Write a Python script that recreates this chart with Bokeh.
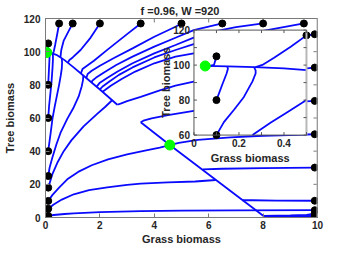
import math
from bokeh.plotting import figure
from bokeh.models import Range1d, FixedTicker, Span
from bokeh.core.properties import value
from bokeh.embed import file_html
from bokeh.resources import INLINE

# ---------------- texts / ticks ----------------
TITLE = "f =0.96,  W =920"
X_LABEL = "Grass biomass"
Y_LABEL = "Tree biomass"
x_ticks = [0, 2, 4, 6, 8, 10]
y_ticks = [0, 20, 40, 60, 80, 100, 120]
inset_x_ticks = [0, 0.1, 0.2, 0.3, 0.4, 0.5]
inset_x_label_vals = [0, 0.2, 0.4]
inset_x_label_txt = ["0", "0.2", "0.4"]
inset_y_ticks = [60, 70, 80, 90, 100, 110, 120]
inset_y_label_vals = [60, 80, 100, 120]

# ---------------- initial conditions (black dots) ----------------
left_g = 0.1
left_t = [105, 80, 60, 40, 25, 18, 10, 5.3, 1.0]
top_t = 117
top_g = [0.5, 1.0, 2.0, 3.5, 5.0, 6.5, 8.0, 9.5]
right_g = 9.9
right_t = [110.5, 90.4, 70.3, 50.2, 30.1, 10.1, 4.4, 2.4, 0.9]

# ---------------- stable equilibria (green) ----------------
eq_g = [0.05, 4.57]
eq_t = [99.5, 43.7]

# ---------------- trajectories (grass, tree) ----------------
L1_g = [0.1, 0.089, 0.07]
L1_t = [105, 100.1, 99.5]
L2_g = [0.1, 0.126, 0.145, 0.151, 0.148]
L2_t = [80, 88.9, 95.2, 97.9, 99.2]
L3_g = [0.1, 0.133, 0.178, 0.222, 0.26, 0.274, 0.274, 0.267]
L3_t = [60, 67.4, 74.5, 81.8, 90.7, 95.2, 97.0, 98.8]
L4_g = [0.1, 0.14, 0.19, 0.26, 0.34, 0.42, 0.5, 0.56, 0.6, 0.61, 0.6]
L4_t = [40, 45, 51, 60, 67, 73.5, 80, 85.5, 90, 93.5, 96.0]
L5_g = [0.1, 0.15, 0.25, 0.4, 0.55, 0.8, 1.04, 1.22, 1.33, 1.38, 1.39]
L5_t = [25, 30, 36, 44, 51, 59.5, 66.5, 73, 79, 83, 85.6]
L6_g = [0.1, 0.25, 0.45, 0.67, 0.95, 1.4, 1.9, 2.2, 2.45]
L6_t = [18, 26, 33.5, 40, 46.5, 55, 62.5, 66.8, 70.7]
L7_g = [0.1, 0.25, 0.5, 0.8, 1.2, 1.7, 2.3, 3.0, 3.7, 4.2, 4.57]
L7_t = [10, 13.5, 18, 23, 27.5, 31.5, 35, 38, 40.5, 42.2, 43.7]
L8_g = [0.1, 0.3, 0.6, 1.04, 1.6, 2.27, 3.0, 3.5, 4.5, 5.5, 6.26]
L8_t = [5.3, 7.8, 10.8, 14, 16.5, 18.2, 19.7, 20.4, 21.2, 21.7, 22.6]
L9_g = [0.1, 0.3, 0.7, 1.04, 2.0, 3.5, 5.0, 7.0, 9.9]
L9_t = [1.0, 1.5, 2.1, 2.5, 3.2, 3.8, 4.1, 4.3, 4.4]

T1_g = [0.5, 0.43, 0.356, 0.304, 0.274]
T1_t = [117, 110.5, 104.2, 100.1, 98.8]
T2_g = [1.0, 0.85, 0.67, 0.58, 0.55]
T2_t = [117, 112.4, 106.7, 101, 96.7]
T3_g = [2.0, 1.66, 1.29, 1.0, 0.88, 0.82]
T3_t = [117, 108.5, 101, 96.5, 95, 93.3]
T4_g = [3.5, 3.0, 2.27, 1.78, 1.5, 1.36, 1.3]
T4_t = [117, 110.6, 101.1, 94.5, 91.2, 89.5, 86.9]
T5_g = [5.0, 4.78, 4.0, 3.2, 2.5, 2.0, 1.7, 1.55, 1.5]
T5_t = [117, 115, 109, 102, 96, 91.5, 88.5, 86.5, 84.1]
T6_g = [6.5, 5.45, 4.78, 4.0, 3.2, 2.6, 2.15, 1.85, 1.72, 1.7]
T6_t = [117, 113, 108.4, 103, 97, 92, 87.5, 84.2, 82.5, 81.4]
T7_g = [8.0, 7.0, 6.0, 5.45, 4.78, 4.0, 3.2, 2.65, 2.25, 2.0, 1.88]
T7_t = [117, 114.8, 111.5, 108.5, 104, 99, 93, 88, 84, 81.3, 78.9]
T8_g = [9.5, 8.5, 7.5, 6.5, 5.45, 4.78, 4.0, 3.2, 2.7, 2.35, 2.1, 2.0]
T8_t = [117, 114, 111, 108, 104.5, 101, 96.5, 90.5, 86, 82, 79, 77.2]

R1_g = [9.9, 9.0, 8.0, 7.0, 6.0, 5.45, 4.78, 4.0, 3.3, 2.8, 2.4, 2.2, 2.1]
R1_t = [110.5, 108.5, 106, 103.5, 100.5, 99, 97, 93, 88, 83.5, 79.5, 77, 75.8]
R2_g = [9.9, 9.0, 8.0, 7.0, 6.0, 5.45, 4.78, 4.23, 3.5, 3.0, 2.76, 2.64]
R2_t = [90.4, 89, 87.3, 85.5, 83.2, 82, 79.5, 76.8, 72.8, 70.2, 68.7, 68.0]
R3_g = [9.9, 8.0, 6.9, 5.45, 4.5, 3.9, 3.6, 3.5]
R3_t = [70.3, 68.5, 66.8, 64.3, 61.8, 59.8, 58.4, 57.4]
R9_g = [9.9, 8.0, 6.8, 5.6, 4.9, 4.57]
R9_t = [50.2, 49.3, 48.3, 46.8, 45, 43.7]
R4_g = [9.9, 8.0, 6.5, 5.78]
R4_t = [30.1, 29.8, 29.4, 29.0]
R5_g = [9.9, 8.5, 7.6, 7.25]
R5_t = [10.1, 10.2, 10.4, 10.4]
R7_g = [9.9, 9.6, 9.0, 8.0]
R7_t = [2.4, 1.6, 1.3, 1.0]
R8_g = [9.9, 8.04]
R8_t = [0.9, 0.57]

# slow manifolds the trajectories run along to the equilibria
D1_g = [0.05, 0.15, 0.27, 0.4, 0.5, 0.7, 1.0, 1.4, 2.0, 2.64]
D1_t = [99.5, 99.3, 98.8, 98.1, 97.1, 94.9, 91.0, 85.5, 77.2, 68.0]
D2_g = [3.5, 4.57, 8.04]
D2_t = [57.4, 43.7, 0.57]

trajectories = [
    (L1_g, L1_t), (L2_g, L2_t), (L3_g, L3_t), (L4_g, L4_t), (L5_g, L5_t),
    (L6_g, L6_t), (L7_g, L7_t), (L8_g, L8_t), (L9_g, L9_t),
    (T1_g, T1_t), (T2_g, T2_t), (T3_g, T3_t), (T4_g, T4_t), (T5_g, T5_t),
    (T6_g, T6_t), (T7_g, T7_t), (T8_g, T8_t),
    (R1_g, R1_t), (R2_g, R2_t), (R3_g, R3_t), (R9_g, R9_t), (R4_g, R4_t),
    (R5_g, R5_t), (R7_g, R7_t), (R8_g, R8_t),
    (D1_g, D1_t), (D2_g, D2_t),
]

dots_g = [left_g] * len(left_t) + top_g + [right_g] * len(right_t)
dots_t = left_t + [top_t] * len(top_g) + right_t

# ---------------- style / layout constants ----------------
FONT = "Liberation Sans"
TXT = "#262626"
AX = "#7a7a7a"
BLUE = "#0a0aff"
GREEN = "#00ff00"
LW = 1.8
X0, X1, Y0, Y1 = 0, 10, 0, 120

# inset box position (in main data units) and inset data window
IN_G0, IN_G1 = 5.458, 9.595
IN_T0, IN_T1 = 49.7, 113.0
ig0, ig1 = 0.0, 0.5
it0, it1 = 60.0, 120.0
FRAME_W, FRAME_H = 273.0, 200.0   # approx. frame size in px

p = figure(width=334, height=247, x_range=Range1d(X0, X1), y_range=Range1d(Y0, Y1),
           output_backend="svg", toolbar_location=None, title=TITLE,
           min_border_left=40, min_border_right=17, min_border_top=12,
           min_border_bottom=18)
p.grid.visible = False
p.outline_line_color = AX
p.outline_line_width = 1
p.title.align = "center"
p.title.text_font = FONT
p.title.text_font_size = "11px"
p.title.text_font_style = "bold"
p.title.text_color = TXT
p.title.standoff = 4

for ax, ticks in ((p.xaxis[0], x_ticks), (p.yaxis[0], y_ticks)):
    ax.ticker = FixedTicker(ticks=ticks)
    ax.major_tick_in = 4
    ax.major_tick_out = 0
    ax.minor_tick_line_color = None
    ax.axis_line_color = AX
    ax.major_tick_line_color = AX
    ax.major_label_text_font = FONT
    ax.major_label_text_font_size = "10px"
    ax.major_label_text_font_style = "bold"
    ax.major_label_text_color = TXT
    ax.axis_label_text_font = FONT
    ax.axis_label_text_font_size = "11px"
    ax.axis_label_text_font_style = "bold"
    ax.axis_label_text_color = TXT
p.xaxis.axis_label = X_LABEL
p.yaxis.axis_label = Y_LABEL
p.xaxis.major_label_standoff = 3
p.xaxis.axis_label_standoff = 1
p.yaxis.major_label_standoff = 5
p.yaxis.axis_label_standoff = 5

# ticks on the top and right edges of the box (MATLAB "box on")
tk_x = 4 * (X1 - X0) / FRAME_W
tk_y = 4 * (Y1 - Y0) / FRAME_H
p.segment(x0=x_ticks, y0=[Y1] * len(x_ticks), x1=x_ticks, y1=[Y1 - tk_y] * len(x_ticks),
          line_color=AX, line_width=1)
p.segment(x0=[X1] * len(y_ticks), y0=y_ticks, x1=[X1 - tk_x] * len(y_ticks), y1=y_ticks,
          line_color=AX, line_width=1)
p.add_layout(Span(location=X1, dimension="height", line_color="#b8b8b8", line_width=2))

# ---------------- main plot ----------------
p.multi_line(xs=[g for g, t in trajectories], ys=[t for g, t in trajectories],
             line_color=BLUE, line_width=LW)
p.scatter(dots_g, dots_t, size=7, color="black")
p.scatter(eq_g, eq_t, size=10, color=GREEN)

# ---------------- inset (same data, zoomed window) ----------------
sx = (ig1 - ig0) / (IN_G1 - IN_G0)
sy = (it1 - it0) / (IN_T1 - IN_T0)
p.extra_x_ranges = {"ix": Range1d(ig0 - (IN_G0 - X0) * sx, ig0 + (X1 - IN_G0) * sx)}
p.extra_y_ranges = {"iy": Range1d(it0 - (IN_T0 - Y0) * sy, it0 + (Y1 - IN_T0) * sy)}
IR = dict(x_range_name="ix", y_range_name="iy")


def clip_polyline(gs, ts, g0, g1, t0, t1):
    pieces, cur = [], []
    for i in range(len(gs) - 1):
        x0, y0, x1, y1 = gs[i], ts[i], gs[i + 1], ts[i + 1]
        dx, dy = x1 - x0, y1 - y0
        u0, u1, ok = 0.0, 1.0, True
        for pp, qq in ((-dx, x0 - g0), (dx, g1 - x0), (-dy, y0 - t0), (dy, t1 - y0)):
            if pp == 0:
                if qq < 0:
                    ok = False
                    break
            else:
                r = qq / pp
                if pp < 0:
                    u0 = max(u0, r)
                else:
                    u1 = min(u1, r)
        if not ok or u0 > u1:
            if cur:
                pieces.append(cur)
                cur = []
            continue
        a = (x0 + u0 * dx, y0 + u0 * dy)
        b = (x0 + u1 * dx, y0 + u1 * dy)
        if cur and u0 > 0:
            pieces.append(cur)
            cur = []
        if not cur:
            cur = [a]
        cur.append(b)
        if u1 < 1:
            pieces.append(cur)
            cur = []
    if cur:
        pieces.append(cur)
    return pieces


ixs, iys = [], []
for g, t in trajectories:
    for piece in clip_polyline(g, t, ig0, ig1, it0, it1):
        ixs.append([q[0] for q in piece])
        iys.append([q[1] for q in piece])

p.quad(left=[ig0], right=[ig1], bottom=[it0], top=[it1], fill_color="white",
       line_color=None, **IR)
p.multi_line(xs=ixs, ys=iys, line_color=BLUE, line_width=LW, **IR)

eps = 1e-9
inside = [(g, t) for g, t in zip(dots_g, dots_t)
          if ig0 - eps <= g <= ig1 + eps and it0 - eps <= t <= it1 + eps]
p.scatter([q[0] for q in inside], [q[1] for q in inside], size=7, color="black", **IR)
einside = [(g, t) for g, t in zip(eq_g, eq_t) if ig0 <= g <= ig1 and it0 <= t <= it1]
p.scatter([q[0] for q in einside], [q[1] for q in einside], size=10, color=GREEN, **IR)

# inset box & ticks
inset_px_w = (IN_G1 - IN_G0) / (X1 - X0) * FRAME_W
inset_px_h = (IN_T1 - IN_T0) / (Y1 - Y0) * FRAME_H
tg = 3 * (ig1 - ig0) / inset_px_w
tt = 3 * (it1 - it0) / inset_px_h
p.quad(left=[ig0], right=[ig1], bottom=[it0], top=[it1], fill_color=None,
       line_color="#555555", line_width=1, **IR)
p.segment(x0=[ig1], y0=[it0], x1=[ig1], y1=[it1], line_color="#b8b8b8", line_width=2, **IR)
p.segment(x0=inset_x_ticks, y0=[it0] * len(inset_x_ticks), x1=inset_x_ticks,
          y1=[it0 + tt] * len(inset_x_ticks), line_color="#555555", line_width=1, **IR)
p.segment(x0=inset_x_ticks, y0=[it1] * len(inset_x_ticks), x1=inset_x_ticks,
          y1=[it1 - tt] * len(inset_x_ticks), line_color="#555555", line_width=1, **IR)
p.segment(x0=[ig0] * len(inset_y_ticks), y0=inset_y_ticks, x1=[ig0 + tg] * len(inset_y_ticks),
          y1=inset_y_ticks, line_color="#555555", line_width=1, **IR)
p.segment(x0=[ig1] * len(inset_y_ticks), y0=inset_y_ticks, x1=[ig1 - tg] * len(inset_y_ticks),
          y1=inset_y_ticks, line_color="#555555", line_width=1, **IR)

txt = dict(text_font=value(FONT), text_font_style="bold", text_color=TXT)
p.text(x=inset_x_label_vals, y=[it0] * len(inset_x_label_vals), text=inset_x_label_txt,
       text_align="center", text_baseline="top", y_offset=4, text_font_size="10px", **txt, **IR)
p.text(x=[ig0] * len(inset_y_label_vals), y=inset_y_label_vals,
       text=[str(v) for v in inset_y_label_vals], text_align="right", text_baseline="middle",
       x_offset=-4, text_font_size="10px", **txt, **IR)
p.text(x=[(ig0 + ig1) / 2], y=[it0], text=[X_LABEL], text_align="center", text_baseline="top",
       y_offset=17, text_font_size="11px", **txt, **IR)
ylab_g = ig0 - 28 * (ig1 - ig0) / inset_px_w
p.text(x=[ylab_g], y=[(it0 + it1) / 2], text=[Y_LABEL], text_align="center",
       text_baseline="middle", angle=math.pi / 2, text_font_size="11px", **txt, **IR)

open("out.html", "w").write(file_html(p, INLINE))
